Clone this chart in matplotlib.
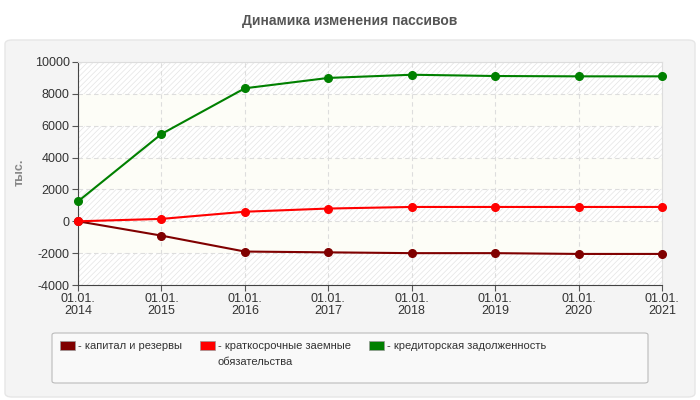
import matplotlib
matplotlib.use("Agg")
import matplotlib.pyplot as plt
from matplotlib.patches import FancyBboxPatch, Patch

plt.rcParams['font.family'] = ['Liberation Sans', 'DejaVu Sans']
plt.rcParams['axes.unicode_minus'] = False
plt.rcParams['hatch.linewidth'] = 0.5
plt.rcParams['hatch.color'] = '#e4e4e4'

# данные
years = ['01.01.\n2014', '01.01.\n2015', '01.01.\n2016', '01.01.\n2017',
         '01.01.\n2018', '01.01.\n2019', '01.01.\n2020', '01.01.\n2021']
kapital = [0, -900, -1900, -1950, -2000, -2000, -2050, -2050]
kratkosr = [0, 150, 600, 800, 900, 900, 900, 900]
kreditor = [1250, 5480, 8350, 9000, 9200, 9120, 9100, 9100]

series = [
    ('- капитал и резервы', kapital, '#800000'),
    ('- краткосрочные заемные\nобязательства', kratkosr, '#ff0000'),
    ('- кредиторская задолженность', kreditor, '#008000'),
]
yticks = [-4000, -2000, 0, 2000, 4000, 6000, 8000, 10000]

fig = plt.figure(figsize=(7, 4), dpi=100)
fig.patch.set_facecolor('white')

# серая подложка
W, H = 700, 400
panel = FancyBboxPatch((5 / W, 3 / H), 690 / W, 357 / H,
                       boxstyle='round,pad=0,rounding_size=0.01',
                       transform=fig.transFigure, facecolor='#f4f4f4',
                       edgecolor='#e6e6e6', linewidth=1, zorder=-5)
fig.patches.append(panel)

fig.text(0.5, 1 - 21 / H, 'Динамика изменения пассивов', ha='center', va='center',
         fontsize=10, fontweight='bold', color='#555555')

ax = fig.add_axes([78 / W, 1 - 285 / H, 584 / W, 223 / H])
ax.set_zorder(2)
ax.set_facecolor('white')
x = list(range(len(years)))

# полосы фона
for i in range(len(yticks) - 1):
    if (len(yticks) - 2 - i) % 2 == 0:
        ax.axhspan(yticks[i], yticks[i + 1], facecolor='white', hatch='//////',
                   edgecolor='#e4e4e4', linewidth=0, zorder=0)
    else:
        ax.axhspan(yticks[i], yticks[i + 1], facecolor='#fdfdf7', linewidth=0, zorder=0)

for label, vals, col in series:
    ax.plot(x, vals, color=col, linewidth=1.5, marker='o', markersize=5.5, zorder=3,
            clip_on=False)

ax.set_xlim(0, len(years) - 1)
ax.set_ylim(-4000, 10000)
ax.set_xticks(x)
ax.set_xticklabels(years, fontsize=9, color='#333333', linespacing=1.0)
ax.set_yticks(yticks)
ax.tick_params(axis='y', labelsize=9, labelcolor='#333333', length=4, color='#555555', pad=2)
ax.tick_params(axis='x', length=4, color='#555555', pad=2)
ax.grid(True, linestyle=(0, (4, 3)), color='#dddddd', linewidth=0.8, zorder=1)
ax.set_axisbelow(True)

for s in ['top', 'right']:
    ax.spines[s].set_color('#dddddd')
for s in ['left', 'bottom']:
    ax.spines[s].set_color('#444444')

fig.text(20 / W, 1 - 172 / H, 'тыс.', rotation=90, ha='center', va='center',
         fontsize=9, fontweight='bold', color='#888888')

# легенда
box = FancyBboxPatch((52 / W, 1 - 383 / H), 596 / W, 50 / H,
                     boxstyle='round,pad=0,rounding_size=0.005',
                     transform=fig.transFigure, facecolor='#f9f9f9',
                     edgecolor='#bbbbbb', linewidth=0.8, zorder=1)
fig.patches.append(box)
handles = [Patch(facecolor=c, edgecolor='#999999', linewidth=0.5) for _, _, c in series]
labels = [l for l, _, _ in series]
leg = fig.legend(handles, labels, loc='upper left', bbox_to_anchor=(60 / W, 1 - 341 / H),
                 ncol=3, frameon=False, fontsize=8, handlelength=1.35, handleheight=0.9,
                 handletextpad=0.27, columnspacing=1.6, borderaxespad=0, borderpad=0,
                 labelcolor='#333333', labelspacing=0.3)
leg.set_zorder(3)
for t in leg.get_texts():
    t.set_linespacing(1.8)
# выровнять по верхней строке
leg._legend_handle_box.align = 'top'
for col in leg._legend_handle_box.get_children():
    for row in col.get_children():
        row.align = 'top'

fig.savefig('out.png', dpi=100)
